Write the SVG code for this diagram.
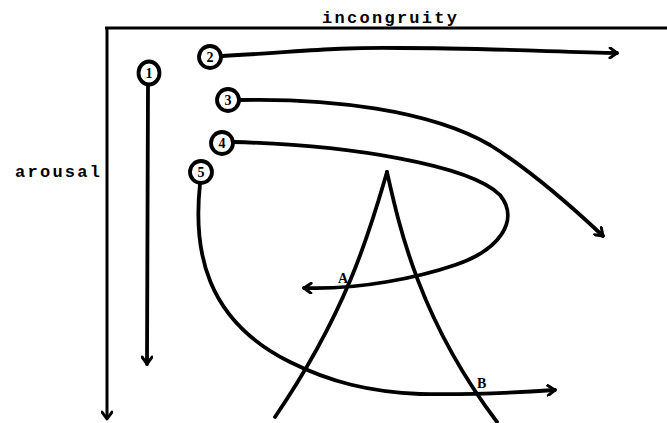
<svg xmlns="http://www.w3.org/2000/svg" width="667" height="423" viewBox="0 0 667 423">
<defs>
<style>
.ln{fill:none;stroke:#000;stroke-width:3.8;stroke-linecap:round;stroke-linejoin:round}
.ax{fill:none;stroke:#000;stroke-width:3;stroke-linecap:butt}
.nd{fill:#fff;stroke:#000;stroke-width:3.8}
.num{font-family:"Liberation Serif",serif;font-weight:bold;font-size:14px;text-anchor:middle}
.lab{font-family:"Liberation Mono",monospace;font-weight:bold;font-size:17px}
.pt{font-family:"Liberation Serif",serif;font-weight:bold;font-size:14px}
</style>
<marker id="ah" viewBox="0 0 12 12" refX="10" refY="6" markerWidth="12" markerHeight="12" markerUnits="userSpaceOnUse" orient="auto">
<path d="M3 1 L10 6 L3 11" fill="none" stroke="#000" stroke-width="3" stroke-linecap="round" stroke-linejoin="round"/>
</marker>
</defs>
<rect width="667" height="423" fill="#fff"/>
<g id="axes">
<path class="ax" d="M105 28 L667 28"/>
<path class="ax" d="M107 28 L107 419" marker-end="url(#ah)"/>
<text class="lab" x="322" y="23" textLength="135">incongruity</text>
<text class="lab" x="15" y="177" textLength="85">arousal</text>
</g>
<g id="cusp">
<path class="ln" d="M387 172 C370 230 348 310 275 417"/>
<path class="ln" d="M387 172 C400 230 420 320 497 422"/>
<text class="pt" x="338" y="283">A</text>
<text class="pt" x="477" y="388">B</text>
</g>
<g id="connectors">
<path class="ln" d="M148 85 L147 364" marker-end="url(#ah)"/>
<path class="ln" d="M222 56 C300 52 330 47 400 48 C480 48 560 52 617 53" marker-end="url(#ah)"/>
<path class="ln" d="M239 100 C330 98 430 110 490 145 C530 170 570 205 603 236" marker-end="url(#ah)"/>
<path class="ln" d="M233 142 C350 145 470 165 500 195 C520 220 500 250 455 265 C420 277 360 290 304 288" marker-end="url(#ah)"/>
<path class="ln" d="M200 184 C193 250 205 320 290 362 C330 382 370 392 420 394 C470 395 510 393 555 390" marker-end="url(#ah)"/>
</g>
<g id="node1"><ellipse class="nd" cx="149" cy="73" rx="10.5" ry="11.5"/><text class="num" x="149" y="78">1</text></g>
<g id="node2"><circle class="nd" cx="210" cy="57" r="11"/><text class="num" x="210" y="62">2</text></g>
<g id="node3"><circle class="nd" cx="228" cy="100" r="11"/><text class="num" x="228" y="105">3</text></g>
<g id="node4"><circle class="nd" cx="222" cy="143" r="11"/><text class="num" x="222" y="148">4</text></g>
<g id="node5"><circle class="nd" cx="201" cy="172" r="11"/><text class="num" x="201" y="177">5</text></g>
</svg>
